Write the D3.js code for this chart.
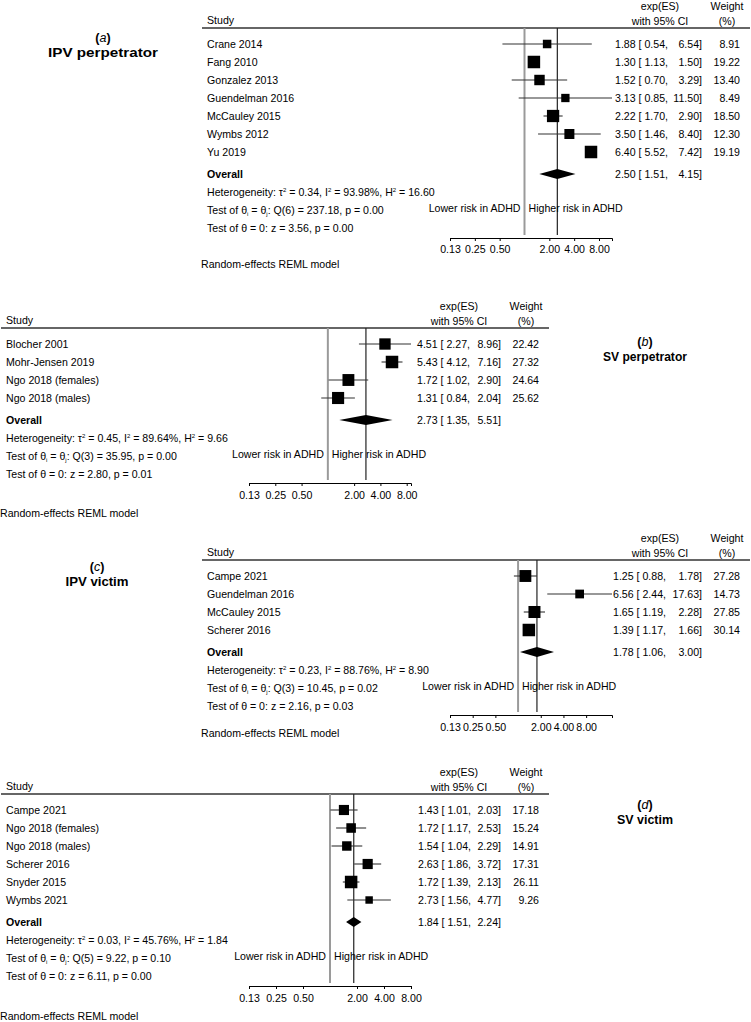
<!DOCTYPE html>
<html><head><meta charset="utf-8">
<script src="https://cdn.jsdelivr.net/npm/d3@7"></script>
<style>
body{margin:0;background:#fff;}
svg text{font-family:"Liberation Sans",Arial,sans-serif;font-size:10.6px;fill:#000;}
</style></head>
<body><svg id="c" width="751" height="1022"></svg>
<script>
// ---- data ----
const ticks = [0.125, 0.25, 0.5, 2, 4, 8];
const tickLabels = ["0.13", "0.25", "0.50", "2.00", "4.00", "8.00"];

const aStudies = ["Crane 2014","Fang 2010","Gonzalez 2013","Guendelman 2016","McCauley 2015","Wymbs 2012","Yu 2019"];
const aES = [1.88,1.30,1.52,3.13,2.22,3.50,6.40];
const aLo = [0.54,1.13,0.70,0.85,1.70,1.46,5.52];
const aHi = [6.54,1.50,3.29,11.50,2.90,8.40,7.42];
const aW  = [8.91,19.22,13.40,8.49,18.50,12.30,19.19];
const aOverall = [2.50,1.51,4.15];
const aStats = {tau2:"0.34", i2:"93.98%", h2:"16.60", df:"6", q:"237.18", pq:"0.00", z:"3.56", pz:"0.00"};

const bStudies = ["Blocher 2001","Mohr-Jensen 2019","Ngo 2018 (females)","Ngo 2018 (males)"];
const bES = [4.51,5.43,1.72,1.31];
const bLo = [2.27,4.12,1.02,0.84];
const bHi = [8.96,7.16,2.90,2.04];
const bW  = [22.42,27.32,24.64,25.62];
const bOverall = [2.73,1.35,5.51];
const bStats = {tau2:"0.45", i2:"89.64%", h2:"9.66", df:"3", q:"35.95", pq:"0.00", z:"2.80", pz:"0.01"};

const cStudies = ["Campe 2021","Guendelman 2016","McCauley 2015","Scherer 2016"];
const cES = [1.25,6.56,1.65,1.39];
const cLo = [0.88,2.44,1.19,1.17];
const cHi = [1.78,17.63,2.28,1.66];
const cW  = [27.28,14.73,27.85,30.14];
const cOverall = [1.78,1.06,3.00];
const cStats = {tau2:"0.23", i2:"88.76%", h2:"8.90", df:"3", q:"10.45", pq:"0.02", z:"2.16", pz:"0.03"};

const dStudies = ["Campe 2021","Ngo 2018 (females)","Ngo 2018 (males)","Scherer 2016","Snyder 2015","Wymbs 2021"];
const dES = [1.43,1.72,1.54,2.63,1.72,2.73];
const dLo = [1.01,1.17,1.04,1.86,1.39,1.56];
const dHi = [2.03,2.53,2.29,3.72,2.13,4.77];
const dW  = [17.18,15.24,14.91,17.31,26.11,9.26];
const dOverall = [1.84,1.51,2.24];
const dStats = {tau2:"0.03", i2:"45.76%", h2:"1.84", df:"5", q:"9.22", pq:"0.10", z:"6.11", pz:"0.00"};

const panelLetters = ["a","b","c","d"];
const panelTitles = ["IPV perpetrator","SV perpetrator","IPV victim","SV victim"];

// ---- layout ----
const layouts = [
  {x0:207, y0:20,  valStart:408, axisGap:10, tickGap:11, modelY:264, labX:103, labY:38, titleLen:110},
  {x0:6,   y0:320, valStart:411, axisGap:9,  tickGap:12, modelY:513, labX:645, labY:342, titleLen:84},
  {x0:207, y0:552, valStart:406, axisGap:9,  tickGap:12, modelY:733, labX:97, labY:567, titleLen:63},
  {x0:6,   y0:786, valStart:412, axisGap:10, tickGap:12, modelY:1016, labX:645, labY:805, titleLen:56}
];

const panels = [
  {studies:aStudies, es:aES, lo:aLo, hi:aHi, w:aW, overall:aOverall, stats:aStats},
  {studies:bStudies, es:bES, lo:bLo, hi:bHi, w:bW, overall:bOverall, stats:bStats},
  {studies:cStudies, es:cES, lo:cLo, hi:cHi, w:cW, overall:cOverall, stats:cStats},
  {studies:dStudies, es:dES, lo:dLo, hi:dHi, w:dW, overall:dOverall, stats:dStats}
];

const svg = d3.select("#c");
const f2 = d3.format(".2f");

function txt(g, x, y, s, anchor, weight){
  return g.append("text").attr("x", x).attr("y", y).attr("dy","0.35em")
    .attr("text-anchor", anchor||"start").attr("font-weight", weight||"normal").text(s);
}

panels.forEach((p, k) => {
  const L = layouts[k];
  const g = svg.append("g");
  const x0 = L.x0, y0 = L.y0;

  // header
  txt(g, x0, y0, "Study");
  txt(g, x0+453, y0-14, "exp(ES)", "middle");
  txt(g, x0+453, y0+1, "with 95% CI", "middle");
  txt(g, x0+520, y0-14, "Weight", "middle");
  txt(g, x0+520, y0+1, "(%)", "middle");
  g.append("line").attr("x1", x0-5).attr("x2", x0+543).attr("y1", y0+8).attr("y2", y0+8)
    .attr("stroke","#333").attr("stroke-width",1.5);

  const rowY = i => y0 + 24 + 18*i;
  const n = p.studies.length;
  const overallY = rowY(n-1) + 22;
  const hetY = overallY + 18, t1Y = hetY + 18, t2Y = t1Y + 18;
  const axisY = t2Y + L.axisGap;

  const maxHi = d3.max(p.hi);
  const x = d3.scaleLog().base(2).domain([0.125, Math.max(8, maxHi)]).range([x0+243, x0+405]);

  // reference lines
  g.append("line").attr("x1", x(1)).attr("x2", x(1)).attr("y1", y0+8).attr("y2", axisY-3)
    .attr("stroke","#9a9a9a").attr("stroke-width",2);
  g.append("line").attr("x1", x(p.overall[0])).attr("x2", x(p.overall[0])).attr("y1", y0+8).attr("y2", axisY-3)
    .attr("stroke","#222").attr("stroke-width",1.2);

  const wmax = d3.max(p.w);
  p.studies.forEach((s, i) => {
    const y = rowY(i);
    txt(g, x0, y, s);
    g.append("line").attr("x1", x(p.lo[i])).attr("x2", x(p.hi[i])).attr("y1", y).attr("y2", y)
      .attr("stroke","#333").attr("stroke-width",1.1);
    const sz = 12.5*Math.sqrt(p.w[i]/wmax);
    g.append("rect").attr("x", x(p.es[i])-sz/2).attr("y", y-sz/2).attr("width", sz).attr("height", sz).attr("fill","#000");
    txt(g, x0+L.valStart, y, f2(p.es[i]) + " [ " + f2(p.lo[i]) + ",");
    txt(g, x0+495, y, f2(p.hi[i]) + "]", "end");
    txt(g, x0+533, y, f2(p.w[i]), "end");
  });

  // overall
  txt(g, x0, overallY, "Overall", "start", "bold");
  const [oe, ol, oh] = p.overall;
  g.append("path").attr("d", `M${x(ol)},${overallY} L${x(oe)},${overallY-5} L${x(oh)},${overallY} L${x(oe)},${overallY+5} Z`).attr("fill","#000");
  txt(g, x0+L.valStart, overallY, f2(oe) + " [ " + f2(ol) + ",");
  txt(g, x0+495, overallY, f2(oh) + "]", "end");

  // heterogeneity
  const st = p.stats;
  const h = g.append("text").attr("x", x0).attr("y", hetY).attr("dy","0.35em");
  h.append("tspan").text("Heterogeneity: τ");
  h.append("tspan").attr("font-size","6px").attr("dy","-4").text("2");
  h.append("tspan").attr("dy","4").text(" = " + st.tau2 + ", I");
  h.append("tspan").attr("font-size","6px").attr("dy","-4").text("2");
  h.append("tspan").attr("dy","4").text(" = " + st.i2 + ", H");
  h.append("tspan").attr("font-size","6px").attr("dy","-4").text("2");
  h.append("tspan").attr("dy","4").text(" = " + st.h2);

  const t1 = g.append("text").attr("x", x0).attr("y", t1Y).attr("dy","0.35em");
  t1.append("tspan").text("Test of θ");
  t1.append("tspan").attr("font-size","6px").attr("dy","2").text("i");
  t1.append("tspan").attr("dy","-2").text(" = θ");
  t1.append("tspan").attr("font-size","6px").attr("dy","2").text("j");
  t1.append("tspan").attr("dy","-2").text(": Q(" + st.df + ") = " + st.q + ", p = " + st.pq);

  txt(g, x0, t2Y, "Test of θ = 0: z = " + st.z + ", p = " + st.pz);

  // risk labels
  txt(g, x(1)-4, t1Y-2, "Lower risk in ADHD", "end");
  txt(g, x(1)+4, t1Y-2, "Higher risk in ADHD", "start");

  // axis
  const axis = d3.axisBottom(x).tickValues(ticks).tickFormat((d,i)=>tickLabels[i]).tickSize(3).tickSizeOuter(3);
  const ag = g.append("g").attr("transform", `translate(0,${axisY})`).call(axis);
  ag.selectAll("path,line").attr("stroke","#000");
  ag.selectAll("text").attr("y", L.tickGap).attr("dy","0.35em")
    .style("font-family","'Liberation Sans',Arial,sans-serif").style("font-size","10.6px").attr("fill","#000");

  txt(g, x0-6, L.modelY, "Random-effects REML model");

  // panel label
  const lab = g.append("text").attr("x", L.labX).attr("y", L.labY).attr("dy","0.35em").attr("text-anchor","middle")
    .attr("font-weight","bold").style("font-size","12.5px");
  lab.append("tspan").text("(");
  lab.append("tspan").attr("font-style","italic").attr("font-weight","normal").text(panelLetters[k]);
  lab.append("tspan").text(")");
  txt(g, L.labX, L.labY+15, panelTitles[k], "middle", "bold").style("font-size","12.5px")
    .attr("textLength", L.titleLen).attr("lengthAdjust","spacingAndGlyphs");
});
</script></body></html>
